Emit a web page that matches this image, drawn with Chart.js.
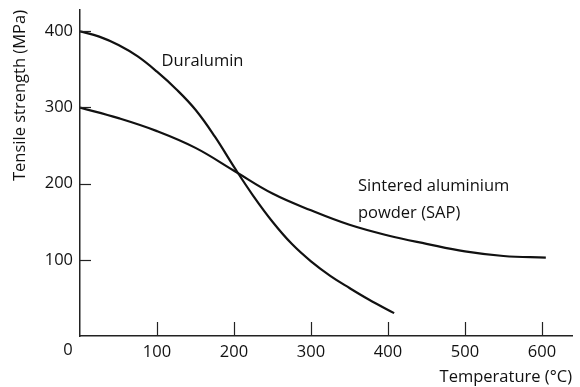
<!DOCTYPE html>
<html>
<head>
<meta charset="utf-8">
<script src="https://cdn.jsdelivr.net/npm/chart.js@4/dist/chart.umd.min.js"></script>
<style>
html,body{margin:0;padding:0;background:#fff;}
#wrap{width:580px;height:387px;position:relative;}
</style>
</head>
<body>
<div id="wrap"><canvas id="c"></canvas></div>
<script>
// Data
const duraluminTemp   = [0, 25, 50, 75, 100, 125, 150, 175, 200, 225, 250, 275, 300, 325, 350, 375, 408];
const duraluminValues = [400, 393, 382, 367, 347, 324, 297, 262, 222, 184, 150, 121, 98, 79, 63, 48, 30];
const sapTemp   = [0, 50, 100, 150, 200, 250, 300, 350, 400, 450, 500, 550, 605];
const sapValues = [300, 286, 269, 247, 217, 187, 165, 146, 132, 121, 111, 105, 103];
const xTickValues = [100, 200, 300, 400, 500, 600];
const yTickValues = [100, 200, 300, 400];
const xTitle = 'Temperature (°C)';
const yTitle = 'Tensile strength (MPa)';
const labelDuralumin = ['Duralumin'];
const labelSAP = ['Sintered aluminium', 'powder (SAP)'];

const FONT = '"Open Sans", "Noto Sans", sans-serif';
const FS = 16.5;
const INK = '#111';

function pts(xs, ys){ return xs.map((x,i)=>({x:x, y:ys[i]})); }

const overlay = {
  id:'overlay',
  afterDraw(chart){
    const ctx = chart.ctx, xs = chart.scales.x, ys = chart.scales.y;
    const left = xs.left, bottom = ys.bottom;
    ctx.save();
    ctx.strokeStyle = '#222';
    ctx.lineWidth = 1.2;
    // inward tick marks
    xTickValues.forEach(v=>{
      const px = Math.round(xs.getPixelForValue(v))+0.5;
      ctx.beginPath(); ctx.moveTo(px, bottom); ctx.lineTo(px, bottom-14); ctx.stroke();
    });
    yTickValues.forEach(v=>{
      const py = Math.round(ys.getPixelForValue(v))+0.5;
      ctx.beginPath(); ctx.moveTo(left, py); ctx.lineTo(left+11, py); ctx.stroke();
    });
    // origin label
    ctx.fillStyle = INK;
    ctx.font = FS + 'px ' + FONT;
    ctx.textAlign = 'center'; ctx.textBaseline = 'middle';
    ctx.fillText('0', xs.getPixelForValue(0)-12, ys.getPixelForValue(0)+14);
    // curve annotations
    ctx.textAlign = 'left';
    ctx.fillText(labelDuralumin[0], xs.getPixelForValue(106), ys.getPixelForValue(360));
    ctx.fillText(labelSAP[0], xs.getPixelForValue(361), ys.getPixelForValue(197));
    ctx.fillText(labelSAP[1], xs.getPixelForValue(361), ys.getPixelForValue(161));
    ctx.restore();
  }
};

new Chart(document.getElementById('c'), {
  type:'line',
  data:{
    datasets:[
      {label:'Duralumin', data:pts(duraluminTemp, duraluminValues), borderColor:INK, borderWidth:2.2, pointRadius:0, tension:0.4, fill:false},
      {label:'Sintered aluminium powder (SAP)', data:pts(sapTemp, sapValues), borderColor:INK, borderWidth:2.2, pointRadius:0, tension:0.4, fill:false}
    ]
  },
  options:{
    responsive:true, maintainAspectRatio:false, animation:false,
    layout:{padding:{top:10, right:8, left:0, bottom:0}},
    plugins:{legend:{display:false}, tooltip:{enabled:false}},
    scales:{
      x:{
        type:'linear', min:0, max:639,
        afterBuildTicks(s){ s.ticks = xTickValues.map(v=>({value:v})); },
        afterFit(s){ s.height = 51; s.paddingLeft = 0; s.paddingRight = 0; },
        grid:{display:true, drawOnChartArea:false, drawTicks:false},
        border:{display:true, color:'#222', width:1.5},
        ticks:{color:INK, font:{family:FONT, size:FS}, padding:6, maxRotation:0, autoSkip:false},
        title:{display:true, text:xTitle, align:'end', color:INK, font:{family:FONT, size:FS}, padding:{top:0, bottom:0}}
      },
      y:{
        type:'linear', min:0, max:428,
        afterBuildTicks(s){ s.ticks = yTickValues.map(v=>({value:v})); },
        afterFit(s){ s.width = 80; s.paddingTop = 0; s.paddingBottom = 0; },
        grid:{display:true, drawOnChartArea:false, drawTicks:false},
        border:{display:true, color:'#222', width:1.5},
        ticks:{color:INK, font:{family:FONT, size:FS}, padding:7, autoSkip:false},
        title:{display:true, text:yTitle, align:'end', color:INK, font:{family:FONT, size:FS}, padding:{top:10, bottom:0}}
      }
    }
  },
  plugins:[overlay]
});
</script>
</body>
</html>
